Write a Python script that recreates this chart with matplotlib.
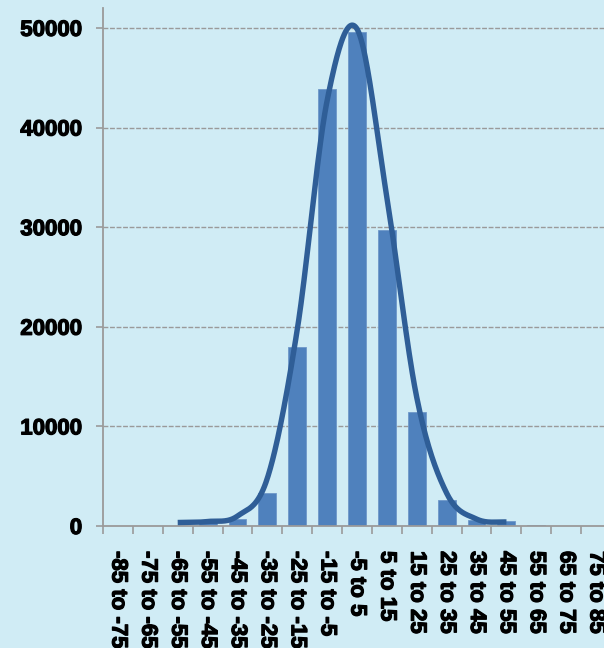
import numpy as np
import matplotlib
matplotlib.use("Agg")
import matplotlib.pyplot as plt
import matplotlib.patheffects as pe

# Histogram bins and counts
categories = ["-85 to -75", "-75 to -65", "-65 to -55", "-55 to -45", "-45 to -35",
              "-35 to -25", "-25 to -15", "-15 to -5", "-5 to 5", "5 to 15",
              "15 to 25", "25 to 35", "35 to 45", "45 to 55", "55 to 65",
              "65 to 75", "75 to 85"]
counts = [0, 0, 0, 400, 700, 3300, 18000, 43900, 49600, 29700, 11400, 2600, 600, 500, 150, 0, 0]

# Fitted curve, sampled at the bin centres from "-65 to -55" to "45 to 55"
curve_bins = categories[2:14]
curve_values = [350, 450, 1000, 4800, 19700, 42700, 49900, 33000, 12900, 3300, 700, 400]

y_ticks = [0, 10000, 20000, 30000, 40000, 50000]

BG = "#D0ECF5"
BAR = "#4F81BD"
LINE = "#2F5E97"
GREY = "#9A9A9A"


def catmull_rom(xs, ys, n=40):
    """Smooth line through the points (Excel-style smoothed line)."""
    xs = np.asarray(xs, float)
    ys = np.asarray(ys, float)
    px = np.concatenate([[2 * xs[0] - xs[1]], xs, [2 * xs[-1] - xs[-2]]])
    py = np.concatenate([[ys[0]], ys, [ys[-1]]])
    out_x, out_y = [], []
    for i in range(1, len(px) - 2):
        t = np.linspace(0, 1, n, endpoint=False)
        p0, p1, p2, p3 = py[i - 1], py[i], py[i + 1], py[i + 2]
        m1 = (p2 - p0) / 2
        m2 = (p3 - p1) / 2
        h00 = 2 * t**3 - 3 * t**2 + 1
        h10 = t**3 - 2 * t**2 + t
        h01 = -2 * t**3 + 3 * t**2
        h11 = t**3 - t**2
        out_y.append(h00 * p1 + h10 * m1 + h01 * p2 + h11 * m2)
        out_x.append(px[i] + t * (px[i + 1] - px[i]))
    out_x.append([xs[-1]])
    out_y.append([ys[-1]])
    return np.concatenate(out_x), np.concatenate(out_y)


heavy = [pe.withStroke(linewidth=0.9, foreground="black")]

fig = plt.figure(figsize=(6.04, 6.48), dpi=100, facecolor=BG)
ax = fig.add_axes([103 / 604, 122 / 648, 508 / 604, 518 / 648])
ax.set_facecolor(BG)

x = np.arange(len(categories))
ax.bar(x, counts, width=0.6, color=BAR, edgecolor="#6E98C9", linewidth=0.6, zorder=2)

cx = [categories.index(c) for c in curve_bins]
sx, sy = catmull_rom(cx, curve_values)
ax.plot(sx, sy, color=LINE, linewidth=3.9, solid_capstyle="butt",
        solid_joinstyle="round", zorder=3)

ax.set_xlim(-0.5, len(categories) - 0.5)
ax.set_ylim(0, 52000)

# Grid lines
for v in y_ticks[1:]:
    ax.axhline(v, color=GREY, linewidth=1.0, linestyle=(0, (3.5, 1.2)), zorder=1)

# Spines
for side in ("top", "right"):
    ax.spines[side].set_visible(False)
for side in ("left", "bottom"):
    ax.spines[side].set_color(GREY)
    ax.spines[side].set_linewidth(1.3)

# Y axis
ax.set_yticks(y_ticks)
ax.set_yticklabels([str(v) for v in y_ticks], fontfamily="Liberation Sans",
                   fontweight="bold", fontsize=16)
ax.tick_params(axis="y", direction="out", length=5, width=1.2, color=GREY, pad=10)
for lbl in ax.get_yticklabels():
    lbl.set_path_effects(heavy)

# X axis: tick marks on bin boundaries, labels at bin centres
ax.set_xticks(np.arange(len(categories) + 1) - 0.5)
ax.set_xticklabels([])
ax.tick_params(axis="x", which="major", direction="out", length=6, width=1.2, color=GREY)
ax.set_xticks(x, minor=True)
ax.set_xticklabels(categories, minor=True, rotation=270, fontfamily="Liberation Sans",
                   fontweight="bold", fontsize=16, ha="center", va="top",
                   rotation_mode="default")
ax.tick_params(axis="x", which="minor", length=0, pad=18)
for lbl in ax.get_xticklabels(minor=True):
    lbl.set_path_effects(heavy)

fig.savefig("out.png", dpi=100, facecolor=BG)
